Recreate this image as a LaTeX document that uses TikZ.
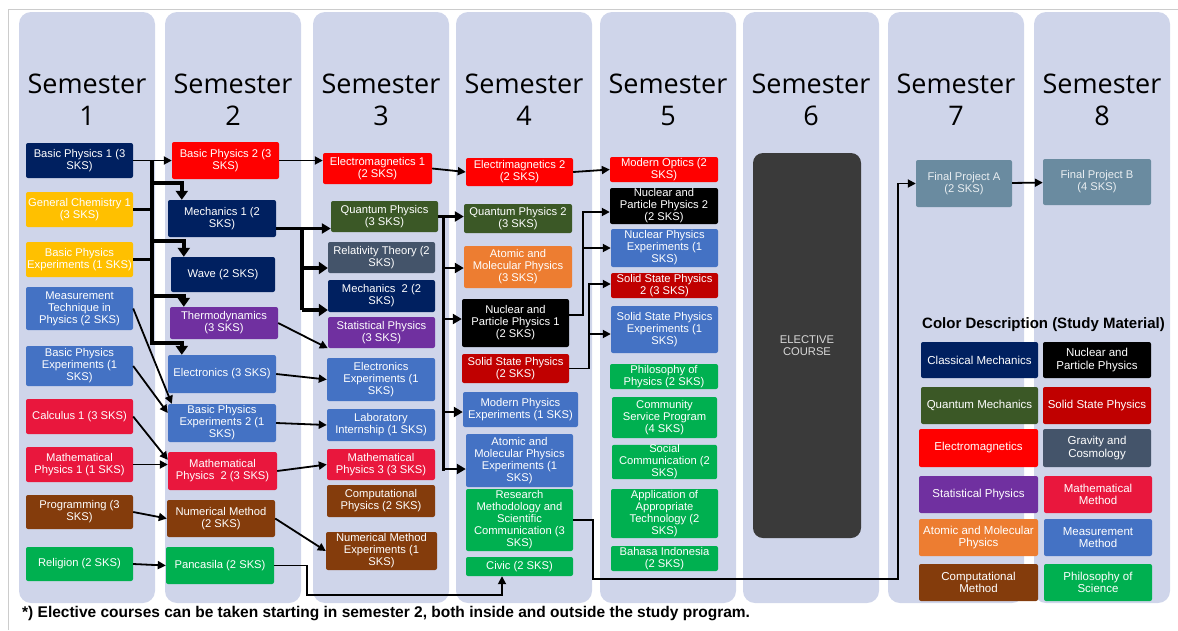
\documentclass[tikz,border=0pt]{standalone}
\usepackage{fontspec}
\setmainfont{Liberation Sans}
\newfontfamily\headfont{Open Sans}
\usetikzlibrary{arrows.meta}

\definecolor{cnavy}{HTML}{002060}
\definecolor{cgold}{HTML}{FFC000}
\definecolor{cblue}{HTML}{4472C4}
\definecolor{cmath}{HTML}{E9173D}
\definecolor{cbrown}{HTML}{843C0C}
\definecolor{cgreen}{HTML}{00B050}
\definecolor{cred}{HTML}{FF0000}
\definecolor{cpurple}{HTML}{7030A0}
\definecolor{cquant}{HTML}{3B5826}
\definecolor{cslate}{HTML}{44546A}
\definecolor{corange}{HTML}{ED7D31}
\definecolor{csolid}{HTML}{C00000}
\definecolor{cpanel}{HTML}{CFD5EA}
\definecolor{celect}{HTML}{3A3A3A}
\definecolor{cfinal}{HTML}{6A8BA0}

\newcommand{\crsfont}{\fontsize{11.2}{12}\selectfont}
\newcommand{\legfont}{\fontsize{11.5}{12.5}\selectfont}

\begin{document}
\begin{tikzpicture}
  [x=1pt, y=-1pt,
   crs/.style n args={3}{fill=#1, rounded corners=2pt, text=white, align=center,
     inner sep=0pt, minimum width=#2, minimum height=#3, font=\crsfont},
   leg/.style n args={3}{crs={#1}{#2}{#3}, font=\legfont},
   con/.style={line width=1.8pt, -{Triangle[length=8pt,width=8pt]}},
   midarr/.style={line width=2.5pt, -{Triangle[length=9pt,width=10pt]}},
   feed/.style={line width=2.5pt},
   bus/.style={line width=3.8pt},
   busarr/.style={line width=3.8pt, -{Triangle[length=9pt,width=12pt]}},
   panel/.style={fill=cpanel, rounded corners=12pt},
   semhead/.style={align=center, font=\headfont\fontsize{27}{32}\selectfont}]
  \useasboundingbox (0,0) rectangle (1178,630);
  \draw[black!20, line width=0.8pt] (8,630) -- (8,9) -- (1178,9);

  \foreach \x [count=\n] in {19,165,313,456,600,743,888,1034} {
    \fill[panel] (\x,12) rectangle ++(136,591);
    \node[semhead] (sem\n) at (\x+68,100) {Semester\\\n};
  }

  % semester 1
  \node[crs={cnavy}{107}{35}] (bp1) at (79.5,160.5) {Basic Physics 1 (3\\SKS)};
  \node[crs={cgold}{107}{35}] (chem) at (79.5,209.5) {General Chemistry 1\\(3 SKS)};
  \node[crs={cgold}{107}{35}] (bpexp) at (79.5,259.5) {Basic Physics\\Experiments (1 SKS)};
  \node[crs={cblue}{107}{43}] (meas) at (79.5,308.5) {Measurement\\Technique in\\Physics (2 SKS)};
  \node[crs={cblue}{107}{40}] (bpexpb) at (79.5,366) {Basic Physics\\Experiments (1\\SKS)};
  \node[crs={cmath}{107}{35}] (calc) at (79.5,416.5) {Calculus 1 (3 SKS)};
  \node[crs={cmath}{107}{35}] (mp1) at (79.5,464.5) {Mathematical\\Physics 1 (1 SKS)};
  \node[crs={cbrown}{107}{34}] (prog) at (79.5,512) {Programming (3\\SKS)};
  \node[crs={cgreen}{107}{34}] (rel) at (79.5,564) {Religion (2 SKS)};

  % semester 2
  \node[crs={cred}{107}{37}] (bp2) at (225.5,160.5) {Basic Physics 2 (3\\SKS)};
  \node[crs={cnavy}{108}{37}] (mech1) at (222,218.5) {Mechanics 1 (2\\SKS)};
  \node[crs={cnavy}{104}{35}] (wave) at (223,274.5) {Wave (2 SKS)};
  \node[crs={cpurple}{108}{32}] (thermo) at (224,323) {Thermodynamics\\(3 SKS)};
  \node[crs={cblue}{108}{38}] (elec) at (222,374) {Electronics (3 SKS)};
  \node[crs={cblue}{108}{38}] (bpe2) at (222,423) {Basic Physics\\Experiments 2 (1\\SKS)};
  \node[crs={cmath}{109}{38}] (mp2) at (222.5,471) {Mathematical\\Physics~ 2 (3 SKS)};
  \node[crs={cbrown}{108}{37}] (num) at (221,518.5) {Numerical Method\\(2 SKS)};
  \node[crs={cgreen}{108}{37}] (panc) at (220,565.5) {Pancasila (2 SKS)};

  % semester 3
  \node[crs={cred}{109}{31}] (em1) at (377.5,168.5) {Electromagnetics 1\\(2 SKS)};
  \node[crs={cquant}{107}{31}] (qp) at (384.5,216.5) {Quantum Physics\\(3 SKS)};
  \node[crs={cslate}{107}{31}] (relth) at (381.5,257.5) {Relativity Theory (2\\SKS)};
  \node[crs={cnavy}{107}{32}] (mech2) at (381.5,296) {Mechanics~ 2 (2\\SKS)};
  \node[crs={cpurple}{107}{31}] (stat) at (381.5,332.5) {Statistical Physics\\(3 SKS)};
  \node[crs={cblue}{108}{43}] (elexp) at (381,379.5) {Electronics\\Experiments (1\\SKS)};
  \node[crs={cblue}{108}{32}] (lab) at (381,425) {Laboratory\\Internship (1 SKS)};
  \node[crs={cmath}{108}{31}] (mp3) at (381,464.5) {Mathematical\\Physics 3 (3 SKS)};
  \node[crs={cbrown}{108}{32}] (comp) at (381,501) {Computational\\Physics (2 SKS)};
  \node[crs={cbrown}{111}{38}] (numexp) at (381.5,551) {Numerical Method\\Experiments (1\\SKS)};

  % semester 4
  \node[crs={cred}{107}{28}] (em2) at (519.5,172) {Electrimagnetics 2\\(2 SKS)};
  \node[crs={cquant}{108}{29}] (qp2) at (518,218.5) {Quantum Physics 2\\(3 SKS)};
  \node[crs={corange}{108}{42}] (amp) at (518,267) {Atomic and\\Molecular Physics\\(3 SKS)};
  \node[crs={black}{107}{48}] (npp1) at (515.5,323) {Nuclear and\\Particle Physics 1\\(2 SKS)};
  \node[crs={csolid}{107}{29}] (ssp) at (515.5,368.5) {Solid State Physics\\(2 SKS)};
  \node[crs={cblue}{115}{35}] (mpe) at (520.5,409.5) {Modern Physics\\Experiments (1 SKS)};
  \node[crs={cblue}{107}{53}] (ampe) at (519.5,460.5) {Atomic and\\Molecular Physics\\Experiments (1\\SKS)};
  \node[crs={cgreen}{107}{62}] (rm) at (519.5,520) {Research\\Methodology and\\Scientific\\Communication (3\\SKS)};
  \node[crs={cgreen}{107}{19}] (civic) at (519.5,566.5) {Civic (2 SKS)};

  % semester 5
  \node[crs={cred}{108}{25}] (mo) at (664,169.5) {Modern Optics (2\\SKS)};
  \node[crs={black}{108}{36}] (npp2) at (664,206) {Nuclear and\\Particle Physics 2\\(2 SKS)};
  \node[crs={cblue}{107}{38}] (npe) at (664.5,248) {Nuclear Physics\\Experiments (1\\SKS)};
  \node[crs={csolid}{107}{25}] (ssp2) at (664.5,285.5) {Solid State Physics\\2 (3 SKS)};
  \node[crs={cblue}{107}{47}] (sspe) at (664.5,329.5) {Solid State Physics\\Experiments (1\\SKS)};
  \node[crs={cgreen}{108}{25}] (phil) at (664,376.5) {Philosophy of\\Physics (2 SKS)};
  \node[crs={cgreen}{105}{41}] (csp) at (664.5,417.5) {Community\\Service Program\\(4 SKS)};
  \node[crs={cgreen}{105}{34}] (soc) at (664.5,462) {Social\\Communication (2\\SKS)};
  \node[crs={cgreen}{107}{49}] (aat) at (664.5,513.5) {Application of\\Appropriate\\Technology (2\\SKS)};
  \node[crs={cgreen}{107}{25}] (bi) at (664.5,558.5) {Bahasa Indonesia\\(2 SKS)};

  % semester 6 to 8
  \node[crs={celect}{108}{385}, rounded corners=10pt, text=black!15] (elect) at (807,345.5) {ELECTIVE\\COURSE};
  \node[crs={cfinal}{96}{47}, text=white!85!cfinal] (fpa) at (964,183.5) {Final Project A\\(2 SKS)};
  \node[crs={cfinal}{108}{46}, text=white!85!cfinal] (fpb) at (1097,182) {Final Project B\\(4 SKS)};

  % colour description
  \node[font=\bfseries\fontsize{15}{18}\selectfont] (legtitle) at (1043.5,325) {Color Description (Study Material)};
  \node[leg={cnavy}{117}{36}] (lg1) at (979.5,360) {Classical Mechanics};
  \node[leg={black}{108}{36}] (lg2) at (1097,360) {Nuclear and\\Particle Physics};
  \node[leg={cquant}{117}{37}] (lg3) at (979.5,405.5) {Quantum Mechanics};
  \node[leg={csolid}{108}{37}] (lg4) at (1097,405.5) {Solid State Physics};
  \node[leg={cred}{119}{38}] (lg5) at (978.5,448) {Electromagnetics};
  \node[leg={cslate}{108}{38}] (lg6) at (1097,448) {Gravity and\\Cosmology};
  \node[leg={cpurple}{119}{37}] (lg7) at (978.5,494.5) {Statistical Physics};
  \node[leg={cmath}{108}{37}] (lg8) at (1098,494.5) {Mathematical\\Method};
  \node[leg={corange}{119}{37}] (lg9) at (978.5,537.5) {Atomic and Molecular\\Physics};
  \node[leg={cblue}{108}{37}] (lg10) at (1098,537.5) {Measurement\\Method};
  \node[leg={cbrown}{119}{37}] (lg11) at (978.5,582.5) {Computational\\Method};
  \node[leg={cgreen}{108}{37}] (lg12) at (1098,582.5) {Philosophy of\\Science};

  \node[anchor=west, inner sep=0pt, font=\bfseries\fontsize{15.5}{18}\selectfont] (note) at (22,614)
    {*) Elective courses can be taken starting in semester 2, both inside and outside the study program.};

  % semester 1 -> 2
  \coordinate (s1a) at (152,160.5);
  \coordinate (s1b) at (152,344.5);
  \draw[bus] (s1a) -- (s1b);
  \foreach \a in {chem,bpexp}
  \draw[feed] (\a.east) -- (\a.east -| s1a);
  \draw[con] (bp1) -- (bp2);
  \foreach \y/\t/\d in {183/mech1/14,241/wave/13,296/thermo/14,343/elec/14} {
    \coordinate (j\t) at (152,\y);
    \draw[busarr] (j\t) -| ([xshift=\d pt]\t.north west);
  }
  \draw[con] (meas.east) -- ([xshift=4pt]bpe2.north west);
  \draw[con] (bpexpb.east) -- ([yshift=10pt]bpe2.west);
  \draw[con] (calc.east) -- ([yshift=-8pt]mp2.north west);
  \draw[con] (mp1.east) -- (mp1.east -| mp2.west);
  \foreach \a/\b in {prog/num,rel/panc}
  \draw[con] (\a.east) -- (\b.west);

  % semester 2 -> 3
  \draw[con] (bp2.east) -- (bp2.east -| em1.west);
  \coordinate (m2a) at (302,228.5);
  \coordinate (m2b) at (302,268);
  \coordinate (m2c) at (302,310);
  \draw[feed] ([yshift=-10pt]mech1.east) -- (m2a);
  \draw[midarr] (m2a) -- (m2a -| qp.west);
  \draw[bus] (m2a) -- (m2c);
  \draw[busarr] (m2b) -- (m2b -| relth.west);
  \draw[busarr] (m2c) -- (m2c -| mech2.west);
  \draw[con] (thermo.east) -- (stat.south west);
  \foreach \a/\b in {elec/elexp,bpe2/lab,mp2/mp3,num/numexp}
  \draw[con] (\a.east) -- (\b.west);
  \coordinate (p1) at (307,595);
  \coordinate (p2) at (502,595);
  \draw[con] (panc.east) -| (p1) -- (p2) -- (p2 |- civic.south);

  % semester 3 -> 4
  \draw[con] (em1.east) -- (em2.west);
  \coordinate (q3a) at (443,216.5);
  \coordinate (q3e) at (443,470.5);
  \draw[midarr] (qp.east) -- (qp.east -| qp2.west);
  \draw[line width=3pt] (q3a) -- (q3e);
  \foreach \y/\t in {268/amp,319/npp1,412/mpe,469/ampe} {
    \coordinate (q\t) at (443,\y);
    \draw[midarr] (q\t) -- (q\t -| \t.west);
  }

  % semester 4 -> 5
  \draw[con] (em2.east) -- (mo.west);
  \coordinate (n4a) at (583,212);
  \coordinate (n4b) at (583,248);
  \draw[con] ([yshift=8pt]npp1.east) -| (n4a) -- (n4a -| npp2.west);
  \draw[con] (n4b) -- (n4b -| npe.west);
  \coordinate (s4a) at (589,284);
  \coordinate (s4b) at (589,334);
  \draw[con] (ssp.east) -| (s4a) -- (s4a -| ssp2.west);
  \draw[con] (s4b) -- (s4b -| sspe.west);

  % research -> final project
  \coordinate (r1) at (593,579);
  \coordinate (r2) at (898,579);
  \draw[con] (rm.east) -| (r1) -- (r2) |- (fpa.west);
  \draw[con] (fpa) -- (fpb);
\end{tikzpicture}
\end{document}
